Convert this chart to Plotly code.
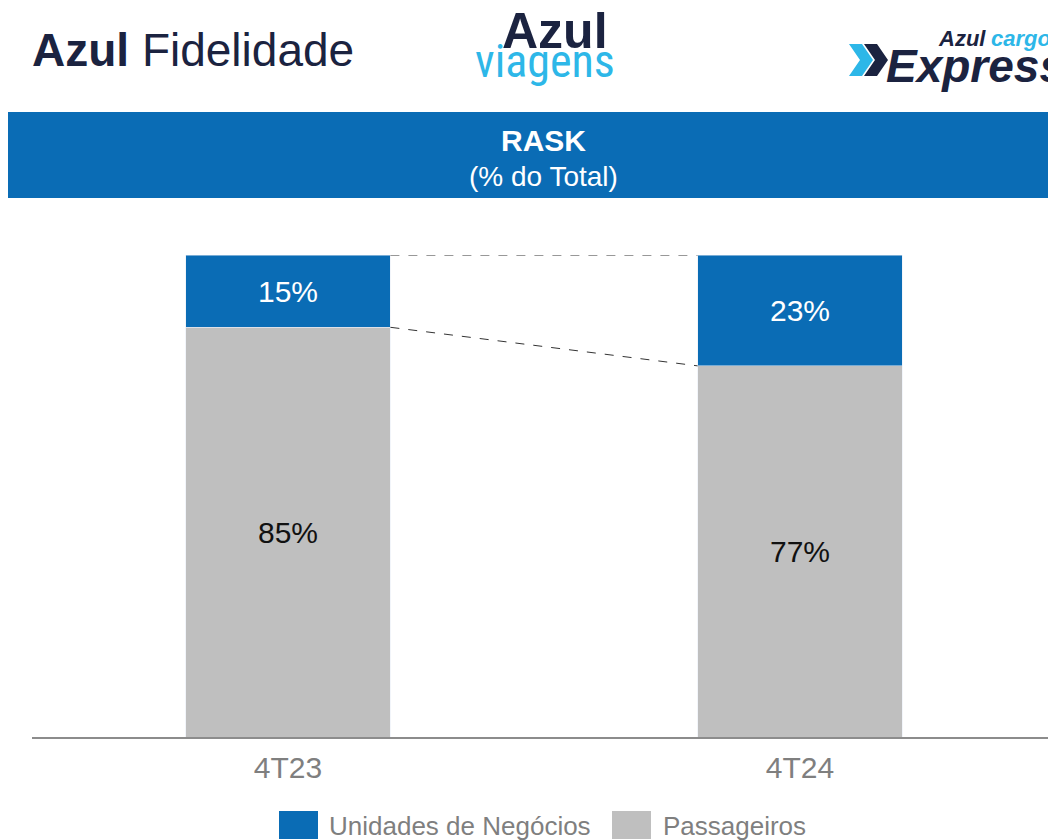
import plotly.graph_objects as go

categories = ["4T23", "4T24"]
passageiros = [85, 77]
unidades = [15, 23]
labels_pass = ["85%", "77%"]
labels_un = ["15%", "23%"]
series_names = ["Unidades de Negócios", "Passageiros"]

BLUE = "#0A6CB5"
GRAY = "#BFBFBF"
NAVY = "#1B2340"
CYAN = "#2DB7E8"
FONT = "Liberation Sans, Arial, sans-serif"

OFF = 8  # page body margin
W, H = 1056 - OFF, 840 - OFF
ML = 32 - OFF
MT = 255 - OFF
AXIS_Y = 737 - OFF
MR = 0
MB = H - AXIS_Y
PW, PH = W - ML - MR, H - MT - MB


def px(x):
    return (x - OFF - ML) / PW


def py(y):
    return (AXIS_Y - (y - OFF)) / PH


fig = go.Figure()
fig.add_trace(go.Bar(
    x=categories, y=passageiros, name=series_names[1], marker_color=GRAY,
    text=labels_pass, textposition="inside", insidetextanchor="middle",
    textfont=dict(size=30, color="#111111", family=FONT), textangle=0,
    width=0.4, showlegend=False, hoverinfo="skip"))
fig.add_trace(go.Bar(
    x=categories, y=unidades, name=series_names[0], marker_color=BLUE,
    text=labels_un, textposition="inside", insidetextanchor="middle",
    textfont=dict(size=30, color="white", family=FONT), textangle=0,
    width=0.4, showlegend=False, hoverinfo="skip"))

shapes = []
# connector dashed lines between bars
for i in range(len(categories) - 1):
    top_a = passageiros[i] + unidades[i]
    top_b = passageiros[i + 1] + unidades[i + 1]
    shapes.append(dict(type="line", xref="x", yref="y", x0=i + 0.2, x1=i + 1 - 0.2,
                       y0=top_a, y1=top_b, line=dict(color="#333333", width=1, dash="dash")))
    shapes.append(dict(type="line", xref="x", yref="y", x0=i + 0.2, x1=i + 1 - 0.2,
                       y0=passageiros[i], y1=passageiros[i + 1],
                       line=dict(color="#333333", width=1, dash="dash")))

# header banner
shapes.append(dict(type="rect", xref="paper", yref="paper", x0=px(8), x1=px(1060),
                   y0=py(198), y1=py(112), fillcolor=BLUE, line=dict(width=0), layer="below"))


def poly(pts, color):
    d = "M " + " L ".join(f"{px(a):.5f},{py(b):.5f}" for a, b in pts) + " Z"
    return dict(type="path", xref="paper", yref="paper", path=d, fillcolor=color,
                line=dict(width=0))


shapes.append(poly([(849, 44), (862, 44), (873, 60), (862, 76), (849, 76), (860, 60)], CYAN))
shapes.append(poly([(864, 44), (877, 44), (888, 60), (877, 76), (864, 76), (875, 60)], NAVY))

# legend squares
shapes.append(dict(type="rect", xref="paper", yref="paper", x0=px(279), x1=px(318),
                   y0=py(839), y1=py(811), fillcolor=BLUE, line=dict(width=0)))
shapes.append(dict(type="rect", xref="paper", yref="paper", x0=px(612), x1=px(651),
                   y0=py(839), y1=py(811), fillcolor=GRAY, line=dict(width=0)))

annotations = [
    dict(text="<b>RASK</b>", x=px(543), y=py(140), font=dict(size=30, color="white", family=FONT)),
    dict(text="(% do Total)", x=px(543), y=py(177), font=dict(size=28, color="white", family=FONT)),
    dict(text="<b>Azul</b> Fidelidade", x=px(30), y=py(50), xanchor="left",
         font=dict(size=46, color=NAVY, family=FONT)),
    dict(text="<b>Azul</b>", x=px(610), y=py(31), xanchor="right",
         font=dict(size=50, color=NAVY, family=FONT)),
    dict(text="viagens", x=px(473), y=py(61), xanchor="left",
         font=dict(size=46, color=CYAN, family="Liberation Sans Narrow, Roboto Condensed, sans-serif")),
    dict(text="<b><i>Azul</i></b>", x=px(988), y=py(38), xanchor="right",
         font=dict(size=22, color=NAVY, family=FONT)),
    dict(text="<b><i>cargo</i></b>", x=px(989), y=py(38), xanchor="left",
         font=dict(size=22, color=CYAN, family=FONT)),
    dict(text="<b><i>Express</i></b>", x=px(884), y=py(66), xanchor="left",
         font=dict(size=46, color=NAVY, family=FONT)),
    dict(text=series_names[0], x=px(327), y=py(826), xanchor="left",
         font=dict(size=26, color="#7F7F7F", family=FONT)),
    dict(text=series_names[1], x=px(661), y=py(826), xanchor="left",
         font=dict(size=26, color="#7F7F7F", family=FONT)),
]
for a in annotations:
    a.update(xref="paper", yref="paper", showarrow=False, yanchor="middle")
    a.setdefault("xanchor", "center")

fig.update_layout(
    width=W, height=H, barmode="stack",
    margin=dict(l=ML, r=MR, t=MT, b=MB, autoexpand=False),
    paper_bgcolor="white", plot_bgcolor="white",
    showlegend=False, shapes=shapes, annotations=annotations,
    font=dict(family=FONT),
    xaxis=dict(range=[-0.5, 1.5], showline=True, linecolor="#8C8C8C", linewidth=2,
               showgrid=False, zeroline=False, ticks="outside", ticklen=3, tickcolor="rgba(0,0,0,0)",
               tickfont=dict(size=30, color="#7F7F7F", family=FONT)),
    yaxis=dict(range=[0, 100], visible=False, showgrid=False, zeroline=False),
)

fig.write_html("out.html")
